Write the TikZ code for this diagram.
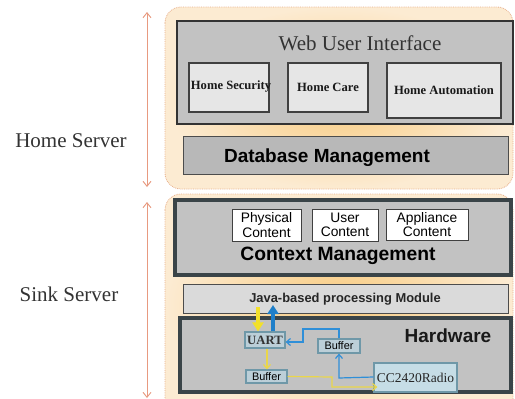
\documentclass[tikz,border=0pt]{standalone}
\usepackage{fontspec}
\usetikzlibrary{arrows.meta}
\newfontfamily\serifx{Liberation Serif}
\newfontfamily\sansx{Liberation Sans}
\definecolor{peachin}{HTML}{F8CB80}
\definecolor{peachout}{HTML}{FCEBD2}
\definecolor{peachline}{HTML}{E8B08C}
\definecolor{salmon}{HTML}{E89A80}
\definecolor{panelgray}{HTML}{C2C2C2}
\definecolor{lightgray}{HTML}{E6E6E6}
\definecolor{javagray}{HTML}{DADADA}
\definecolor{slate}{HTML}{3A4448}
\definecolor{hwfill}{HTML}{BCCFD8}
\definecolor{hwline}{HTML}{6F98A8}
\definecolor{radiofill}{HTML}{C6DDE6}
\definecolor{ythick}{HTML}{F2E02A}
\definecolor{bthick}{HTML}{1F7FC9}
\definecolor{ythin}{HTML}{EAD64A}
\definecolor{bthin}{HTML}{2F8FD8}
\tikzset{
  container/.style={rounded corners=16pt, draw=peachline, densely dotted, line width=0.8pt,
    inner color=peachin, outer color=peachout},
  panel/.style={draw=black!80, fill=panelgray, line width=1.2pt, inner sep=0pt},
  heavypanel/.style={draw=slate, fill=panelgray, line width=4pt, inner sep=0pt},
  flatpanel/.style={draw=black!70, fill=#1, line width=1pt, inner sep=0pt},
  subfont/.style={font=\serifx\bfseries\fontsize{12.6}{14}\selectfont, text=black!90},
  subbox/.style={draw=black!75, fill=lightgray, line width=1.2pt, inner sep=0pt, subfont},
  contentbox/.style={draw=black!75, fill=white, line width=1pt, inner sep=0pt, align=center,
    font=\sansx\fontsize{13.8}{14.3}\selectfont},
  hwbox/.style={draw=hwline, fill=#1, line width=1.2pt, inner sep=0pt},
  sidelabel/.style={font=\serifx\fontsize{21}{25}\selectfont, text=black!80},
  span/.style={draw=salmon, line width=0.9pt, {Straight Barb[length=5pt,width=8pt]}-{Straight Barb[length=5pt,width=8pt]}},
  fatarrow/.style={line width=4.5pt, -{Triangle[length=9pt,width=11pt]}},
  thinarrow/.style={line width=1.2pt, -{Straight Barb[length=4pt,width=7pt]}}
}
\begin{document}
\begin{tikzpicture}[x=1pt,y=-1pt]
\useasboundingbox (0,0) rectangle (515,399);
\fill[white] (0,0) rectangle (515,399);
\clip (0,0) rectangle (515,399);

% two tiers
\path[container] (165,7) rectangle (513,189);
\path[container] (165,194) rectangle (513,420);

% side labels with span arrows
\node[sidelabel] (homelbl) at (71,141) {Home Server};
\node[sidelabel] (sinklbl) at (69,294) {Sink Server};
\coordinate (hs-top) at (147,12);
\coordinate (hs-bot) at (147,187);
\coordinate (ss-top) at (147,202);
\coordinate (ss-bot) at (147,398);
\draw[span] (hs-top) -- (hs-bot);
\draw[span] (ss-top) -- (ss-bot);

% home server
\node[panel, minimum width=336pt, minimum height=103pt] (webui) at (345,72.5) {};
\node[font=\serifx\fontsize{21}{25}\selectfont, text=black!80] (webtitle) at (360,43) {Web User Interface};
\node[subbox, minimum width=80pt, minimum height=49pt] (hsec) at (229,87.5) {};
\node[subfont] (hsectext) at (231,86) {Home Security};
\node[subbox, minimum width=80pt, minimum height=49pt] (hcare) at (328,87.5) {Home Care};
\node[subbox, minimum width=114pt, minimum height=55pt] (hauto) at (444,90.5) {Home Automation};

\node[flatpanel=panelgray!95!black, minimum width=325pt, minimum height=38pt] (db) at (345.5,155) {};
\node[font=\sansx\bfseries\fontsize{19}{22}\selectfont] (dbtext) at (327,158) {Database Management};

% sink server
\node[heavypanel, minimum width=336pt, minimum height=75pt] (ctx) at (343,237.5) {};
\node[contentbox, minimum width=69pt, minimum height=32pt] (phys) at (266.5,225) {Physical\\Content};
\node[contentbox, minimum width=66pt, minimum height=32pt] (user) at (345,225) {User\\Content};
\node[contentbox, minimum width=82pt, minimum height=31pt] (appl) at (427,224.5) {Appliance\\Content};
\node[font=\sansx\bfseries\fontsize{19.3}{22}\selectfont] (ctxtext) at (338,256) {Context Management};

\node[flatpanel=javagray, minimum width=325pt, minimum height=29pt] (java) at (345.5,298.5) {};
\node[font=\sansx\bfseries\fontsize{12.9}{15}\selectfont, text=black!85] (javatext) at (345,299) {Java-based processing Module};

\node[heavypanel, minimum width=331pt, minimum height=74pt] (hw) at (345.5,355) {};
\node[font=\sansx\bfseries\fontsize{19}{22}\selectfont, text=black!90] (hwtext) at (448,336) {Hardware};

% hardware blocks
\node[hwbox=hwfill, minimum width=40pt, minimum height=16pt,
  font=\serifx\bfseries\fontsize{12.7}{14}\selectfont, text=black!80] (uart) at (265,340) {UART};
\node[hwbox=hwfill, minimum width=42pt, minimum height=14pt,
  font=\sansx\fontsize{10.9}{12}\selectfont] (buf1) at (339,346) {Buffer};
\node[hwbox=hwfill, minimum width=41pt, minimum height=13pt,
  font=\sansx\fontsize{10.9}{12}\selectfont] (buf2) at (266.5,376.5) {Buffer};
\node[hwbox=radiofill, minimum width=83pt, minimum height=29pt,
  font=\serifx\fontsize{13.5}{15}\selectfont, text=black!85] (radio) at (415.5,377.5) {CC2420Radio};

% serial link to the processing module
\coordinate (yin) at (258,307);
\coordinate (bout) at (273,305);
\draw[fatarrow, ythick] (yin) -- (yin |- uart.north);
\draw[fatarrow, bthick] (bout |- uart.north) -- (bout);

% transmit path
\draw[thinarrow, ythin] ([xshift=2pt]uart.south) -- ([xshift=0.5pt]buf2.north);
\draw[thinarrow, ythin] (buf2.east) -- (332,377) -- (332,387) -- ([xshift=4pt,yshift=-9.5pt]radio.west);

% receive path
\draw[thinarrow, bthin] ([yshift=0.5pt]radio.west) -- (339,378) -- (buf1.south);
\draw[thinarrow, bthin] (buf1.north) -- (339,329) -- (303,329) -- (303,342) -- ([yshift=-2pt]uart.east);
\end{tikzpicture}
\end{document}
